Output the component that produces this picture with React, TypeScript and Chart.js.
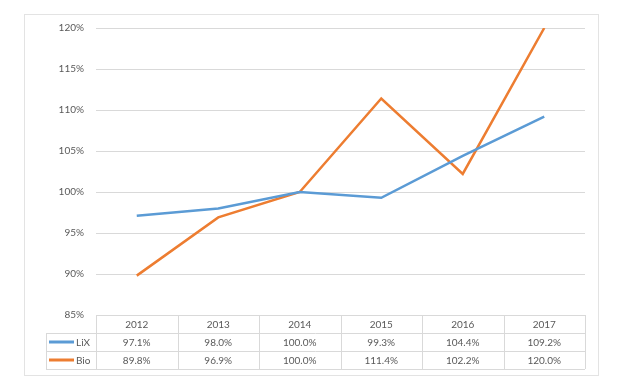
import React, { useEffect, useRef } from "react";
import { Chart, registerables } from "chart.js";

Chart.register(...registerables);

const categories = ["2012", "2013", "2014", "2015", "2016", "2017"];
const lixValues = [97.1, 98.0, 100.0, 99.3, 104.4, 109.2];
const bioValues = [89.8, 96.9, 100.0, 111.4, 102.2, 120.0];
const seriesNames = ["LiX", "Bio"];
const seriesColors = ["#5B9BD5", "#ED7D31"];
const yMin = 85;
const yMax = 120;
const yStep = 5;

const FONT = "Lato, 'Open Sans', sans-serif";
const TEXT = "#595959";
const GRID = "#d9d9d9";

const fmt = (v: number) => v.toFixed(1) + "%";

const tablePlugin = {
  id: "dataTable",
  afterDraw(chart: any) {
    const ctx = chart.ctx as CanvasRenderingContext2D;
    const x = chart.scales.x;
    const area = chart.chartArea;
    const n = categories.length;
    const colW = (area.right - area.left) / n;
    const rowH = 18;
    const top = area.bottom;
    const legendLeft = 46;
    ctx.save();
    // outer frame
    ctx.strokeStyle = "#e3e3e3";
    ctx.lineWidth = 1;
    ctx.strokeRect(24.5, 14.5, 574, 361);

    ctx.strokeStyle = GRID;
    ctx.beginPath();
    // horizontal lines
    ctx.moveTo(area.left, top + 0.5);
    ctx.lineTo(area.right, top + 0.5);
    for (let r = 1; r <= 3; r++) {
      const y = Math.round(top + r * rowH) + 0.5;
      ctx.moveTo(legendLeft, y);
      ctx.lineTo(area.right, y);
    }
    // vertical lines
    for (let c = 0; c <= n; c++) {
      const xx = Math.round(area.left + c * colW) + 0.5;
      ctx.moveTo(xx, top);
      ctx.lineTo(xx, top + 3 * rowH);
    }
    ctx.moveTo(legendLeft + 0.5, top + rowH);
    ctx.lineTo(legendLeft + 0.5, top + 3 * rowH);
    ctx.stroke();

    ctx.fillStyle = TEXT;
    ctx.font = `10px ${FONT}`;
    ctx.textAlign = "center";
    ctx.textBaseline = "middle";
    const rows = [lixValues, bioValues];
    categories.forEach((cat, i) => {
      const cx = x.getPixelForValue(i);
      ctx.fillText(cat, cx, top + rowH / 2 + 1);
      rows.forEach((vals, r) => {
        ctx.fillText(fmt(vals[i]), cx, top + rowH * (r + 1) + rowH / 2 + 1);
      });
    });
    // legend keys
    seriesNames.forEach((name, r) => {
      const y = top + rowH * (r + 1) + rowH / 2;
      ctx.strokeStyle = seriesColors[r];
      ctx.lineWidth = 3;
      ctx.beginPath();
      ctx.moveTo(49, y);
      ctx.lineTo(74, y);
      ctx.stroke();
      ctx.textAlign = "left";
      ctx.fillStyle = TEXT;
      ctx.fillText(name, 76, y + 1);
    });
    ctx.restore();
  },
};

export default function App() {
  const ref = useRef<HTMLCanvasElement | null>(null);
  useEffect(() => {
    if (!ref.current) return;
    const chart = new Chart(ref.current, {
      type: "line",
      data: {
        labels: categories,
        datasets: [
          {
            label: seriesNames[0],
            data: lixValues,
            borderColor: seriesColors[0],
            backgroundColor: seriesColors[0],
            borderWidth: 2.5,
            pointRadius: 0,
            tension: 0,
          },
          {
            label: seriesNames[1],
            data: bioValues,
            borderColor: seriesColors[1],
            backgroundColor: seriesColors[1],
            borderWidth: 2.5,
            pointRadius: 0,
            tension: 0,
          },
        ],
      },
      options: {
        responsive: false,
        animation: false,
        layout: { padding: { left: 24, top: 28, right: 34, bottom: 66 } },
        plugins: {
          legend: { display: false },
          tooltip: { enabled: false },
        },
        scales: {
          x: {
            display: false,
            offset: true,
          },
          y: {
            min: yMin,
            max: yMax,
            afterFit: (s: any) => {
              s.width = 72;
            },
            border: { display: false },
            grid: { color: GRID, drawTicks: false, lineWidth: 1 },
            ticks: {
              stepSize: yStep,
              padding: 12,
              color: TEXT,
              font: { family: FONT, size: 10 },
              callback: (v: any) => v + "%",
            },
          },
        },
      },
      plugins: [tablePlugin],
    });
    return () => chart.destroy();
  }, []);
  return (
    <div style={{ position: "fixed", left: 0, top: 0, width: 619, height: 381, background: "#fff" }}>
      <canvas ref={ref} width={619} height={381} style={{ width: 619, height: 381 }} />
    </div>
  );
}
